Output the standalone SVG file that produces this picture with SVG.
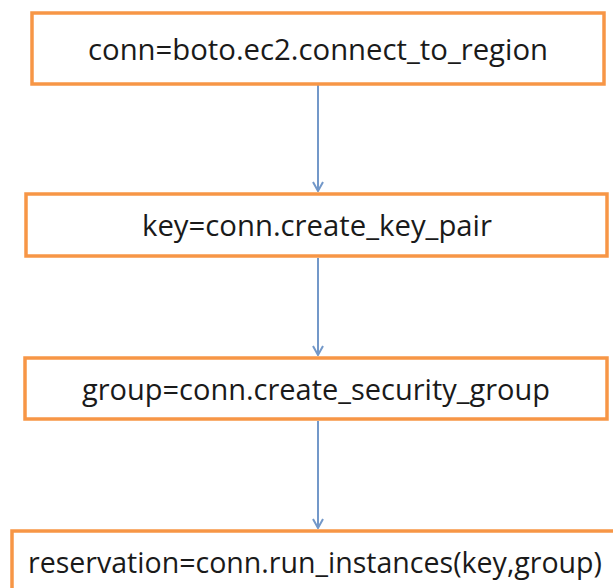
<svg xmlns="http://www.w3.org/2000/svg" width="613" height="588" viewBox="0 0 613 588">
  <style>
    .box { fill: #ffffff; stroke: #f79646; stroke-width: 3.5; }
    .lbl { font-family: "Open Sans", "Liberation Sans", sans-serif; font-size: 30px; fill: #1a1a1a; text-anchor: middle; }
    .edge { stroke: #7398c9; stroke-width: 2; fill: none; }
  </style>
  <defs>
    <marker id="arrow" viewBox="0 0 12 12" refX="11" refY="6" markerWidth="12" markerHeight="12" markerUnits="userSpaceOnUse" orient="auto">
      <path d="M2,1 L11,6 L2,11" fill="none" stroke="#7398c9" stroke-width="2"/>
    </marker>
  </defs>
  <rect width="613" height="588" fill="#ffffff"/>

  <g id="edges">
    <line class="edge" x1="318" y1="85" x2="318" y2="191" marker-end="url(#arrow)"/>
    <line class="edge" x1="318" y1="258" x2="318" y2="355" marker-end="url(#arrow)"/>
    <line class="edge" x1="318" y1="421" x2="318" y2="528" marker-end="url(#arrow)"/>
  </g>

  <g id="connect">
    <rect class="box" x="32" y="13" width="572" height="71"/>
    <text class="lbl" x="318" y="60" textLength="460" lengthAdjust="spacingAndGlyphs">conn=boto.ec2.connect_to_region</text>
  </g>

  <g id="keypair">
    <rect class="box" x="26" y="194" width="581" height="62"/>
    <text class="lbl" x="317" y="236" textLength="350" lengthAdjust="spacingAndGlyphs">key=conn.create_key_pair</text>
  </g>

  <g id="secgroup">
    <rect class="box" x="25" y="358" width="582" height="61"/>
    <text class="lbl" x="316" y="400" textLength="468" lengthAdjust="spacingAndGlyphs">group=conn.create_security_group</text>
  </g>

  <g id="reservation">
    <rect class="box" x="12" y="531" width="620" height="80"/>
    <text class="lbl" x="315" y="573" textLength="574" lengthAdjust="spacingAndGlyphs">reservation=conn.run_instances(key,group)</text>
  </g>
</svg>
